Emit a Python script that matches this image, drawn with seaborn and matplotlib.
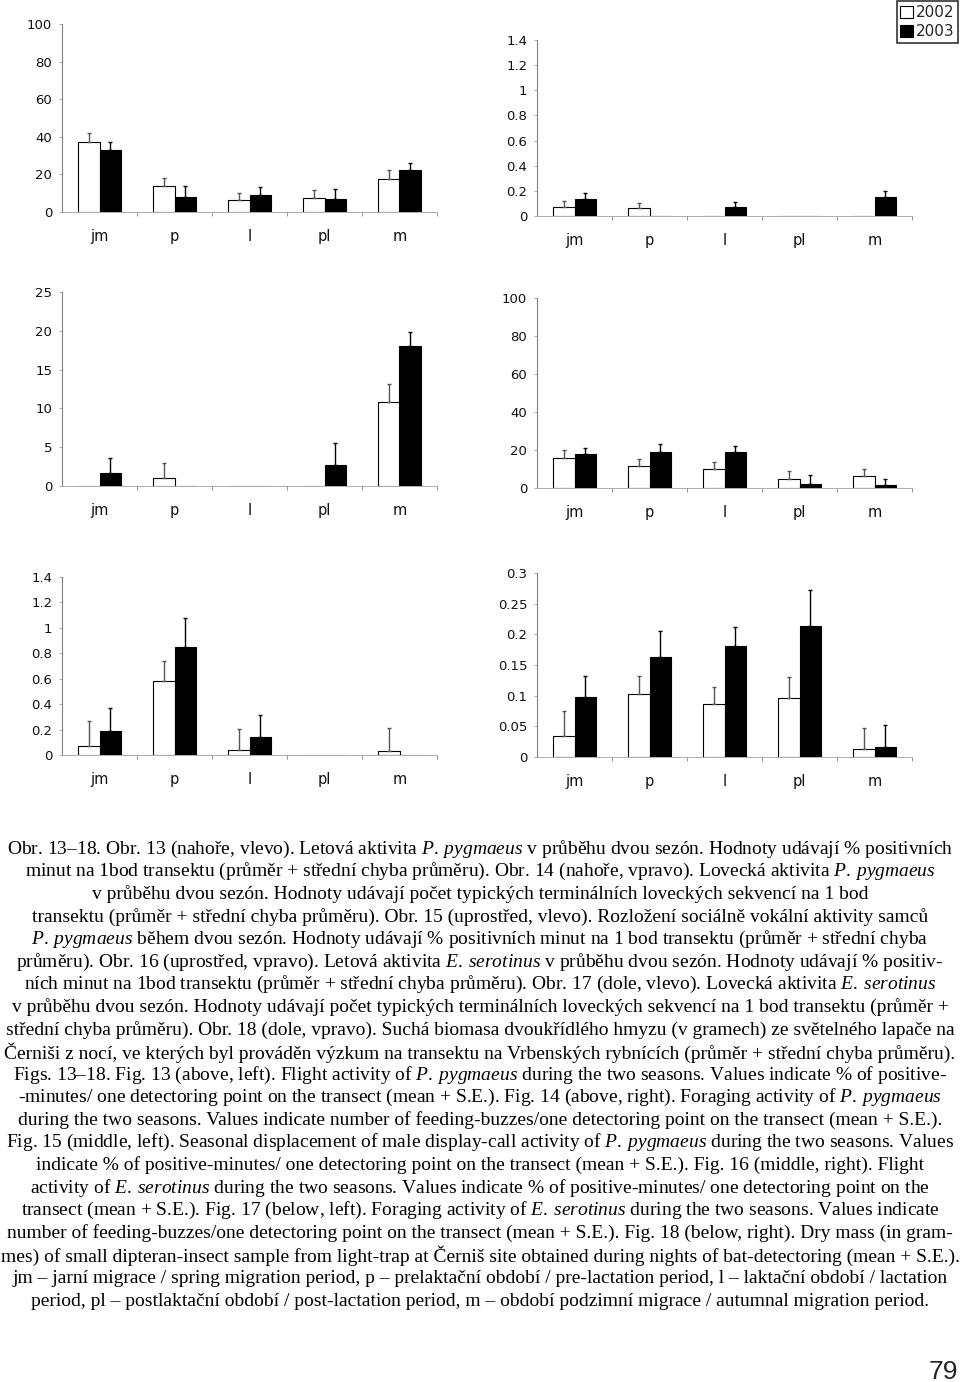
import numpy as np
import pandas as pd
import seaborn as sns
import matplotlib
matplotlib.use('Agg')
from matplotlib import pyplot as plt
from matplotlib import ticker
from matplotlib.patches import Patch

sns.set_theme(style='white')
plt.rcParams['font.family'] = ['DejaVu Sans']
plt.rcParams['mathtext.fontset'] = 'custom'
plt.rcParams['mathtext.it'] = 'Liberation Serif:italic'
plt.rcParams['mathtext.rm'] = 'Liberation Serif'

categories = ['jm', 'p', 'l', 'pl', 'm']
years = ['2002', '2003']

# Obr. 13 - letova aktivita P. pygmaeus (%)
obr13_2002 = [37.0, 14.0, 6.4, 7.3, 17.7]
obr13_2002_se = [5.2, 3.9, 3.9, 4.6, 4.5]
obr13_2003 = [33.2, 8.2, 9.0, 7.1, 22.3]
obr13_2003_se = [4.0, 5.6, 4.1, 5.3, 3.6]
obr13_ticks = [0, 20, 40, 60, 80, 100]

# Obr. 14 - lovecka aktivita P. pygmaeus
obr14_2002 = [0.072, 0.061, 0.0, 0.0, 0.0]
obr14_2002_se = [0.05, 0.04, 0.0, 0.0, 0.0]
obr14_2003 = [0.133, 0.0, 0.072, 0.0, 0.154]
obr14_2003_se = [0.047, 0.0, 0.042, 0.0, 0.046]
obr14_ticks = [0, 0.2, 0.4, 0.6, 0.8, 1, 1.2, 1.4]

# Obr. 15 - socialni vokalizace P. pygmaeus (%)
obr15_2002 = [0.0, 0.99, 0.0, 0.0, 10.84]
obr15_2002_se = [0.0, 1.94, 0.0, 0.0, 2.26]
obr15_2003 = [1.64, 0.0, 0.0, 2.67, 18.1]
obr15_2003_se = [1.93, 0.0, 0.0, 2.83, 1.8]
obr15_ticks = [0, 5, 10, 15, 20, 25]

# Obr. 16 - letova aktivita E. serotinus (%)
obr16_2002 = [15.7, 11.8, 10.0, 4.9, 6.2]
obr16_2002_se = [4.2, 3.3, 3.6, 3.9, 3.8]
obr16_2003 = [17.8, 19.0, 18.7, 2.3, 1.8]
obr16_2003_se = [3.0, 4.4, 3.5, 4.7, 2.8]
obr16_ticks = [0, 20, 40, 60, 80, 100]

# Obr. 17 - lovecka aktivita E. serotinus
obr17_2002 = [0.068, 0.582, 0.042, 0.0, 0.029]
obr17_2002_se = [0.202, 0.16, 0.162, 0.0, 0.18]
obr17_2003 = [0.185, 0.851, 0.141, 0.0, 0.0]
obr17_2003_se = [0.181, 0.225, 0.172, 0.0, 0.0]
obr17_ticks = [0, 0.2, 0.4, 0.6, 0.8, 1, 1.2, 1.4]

# Obr. 18 - sucha biomasa hmyzu (g)
obr18_2002 = [0.0336, 0.1023, 0.0872, 0.097, 0.013]
obr18_2002_se = [0.0422, 0.0304, 0.027, 0.034, 0.0347]
obr18_2003 = [0.098, 0.1625, 0.1814, 0.2139, 0.0168]
obr18_2003_se = [0.0336, 0.0422, 0.0303, 0.059, 0.0352]
obr18_ticks = [0, 0.05, 0.1, 0.15, 0.2, 0.25, 0.3]

PP = r'$P.\:pygmaeus$'
ES = r'$E.\:serotinus$'
caption = [
    'Obr. 13–18. Obr. 13 (nahoře, vlevo). Letová aktivita ' + PP + ' v průběhu dvou sezón. Hodnoty udávají % positivních',
    'minut na 1bod transektu (průměr + střední chyba průměru). Obr. 14 (nahoře, vpravo). Lovecká aktivita ' + PP,
    'v průběhu dvou sezón. Hodnoty udávají počet typických terminálních loveckých sekvencí na 1 bod',
    'transektu (průměr + střední chyba průměru). Obr. 15 (uprostřed, vlevo). Rozložení sociálně vokální aktivity samců',
    PP + ' během dvou sezón. Hodnoty udávají % positivních minut na 1 bod transektu (průměr + střední chyba',
    'průměru). Obr. 16 (uprostřed, vpravo). Letová aktivita ' + ES + ' v průběhu dvou sezón. Hodnoty udávají % positiv-',
    'ních minut na 1bod transektu (průměr + střední chyba průměru). Obr. 17 (dole, vlevo). Lovecká aktivita ' + ES,
    'v průběhu dvou sezón. Hodnoty udávají počet typických terminálních loveckých sekvencí na 1 bod transektu (průměr +',
    'střední chyba průměru). Obr. 18 (dole, vpravo). Suchá biomasa dvoukřídlého hmyzu (v gramech) ze světelného lapače na',
    'Černiši z nocí, ve kterých byl prováděn výzkum na transektu na Vrbenských rybnících (průměr + střední chyba průměru).',
    'Figs. 13–18. Fig. 13 (above, left). Flight activity of ' + PP + ' during the two seasons. Values indicate % of positive-',
    '-minutes/ one detectoring point on the transect (mean + S.E.). Fig. 14 (above, right). Foraging activity of ' + PP,
    'during the two seasons. Values indicate number of feeding-buzzes/one detectoring point on the transect (mean + S.E.).',
    'Fig. 15 (middle, left). Seasonal displacement of male display-call activity of ' + PP + ' during the two seasons. Values',
    'indicate % of positive-minutes/ one detectoring point on the transect (mean + S.E.). Fig. 16 (middle, right). Flight',
    'activity of ' + ES + ' during the two seasons. Values indicate % of positive-minutes/ one detectoring point on the',
    'transect (mean + S.E.). Fig. 17 (below, left). Foraging activity of ' + ES + ' during the two seasons. Values indicate',
    'number of feeding-buzzes/one detectoring point on the transect (mean + S.E.). Fig. 18 (below, right). Dry mass (in gram-',
    'mes) of small dipteran-insect sample from light-trap at Černiš site obtained during nights of bat-detectoring (mean + S.E.).',
    'jm – jarní migrace / spring migration period, p – prelaktační období / pre-lactation period, l – laktační období / lactation',
    'period, pl – postlaktační období / post-lactation period, m – období podzimní migrace / autumnal migration period.',
]
page_number = '79'

W, H = 960, 1382
fig = plt.figure(figsize=(W / 100, H / 100), dpi=100)
fig.patch.set_facecolor('white')


def rect(left, top, bottom):
    # pixel box -> figure fraction
    return [left / W, 1 - bottom / H, 375 / W, (bottom - top) / H]


def draw_panel(box, v02, e02, v03, e03, yticks):
    ax = fig.add_axes(box)
    df = pd.DataFrame({
        'obdobi': categories * 2,
        'rok': [years[0]] * len(categories) + [years[1]] * len(categories),
        'hodnota': v02 + v03,
    })
    sns.barplot(data=df, x='obdobi', y='hodnota', hue='rok', order=categories,
                hue_order=years, palette={years[0]: 'white', years[1]: 'black'},
                edgecolor='black', linewidth=0.8, width=0.58, gap=0,
                errorbar=None, legend=False, ax=ax)
    bar_sets = list(ax.containers[:2])
    for bars, errs, col in zip(bar_sets, [e02, e03], ['#555555', 'black']):
        for bar, err in zip(bars, errs):
            if err > 0:
                x = bar.get_x() + bar.get_width() / 2
                ax.errorbar(x, bar.get_height(), yerr=[[0], [err]], fmt='none',
                            ecolor=col, elinewidth=1, capsize=1.6, capthick=1)
    ax.set_xlim(-0.5, len(categories) - 0.5)
    ax.set_ylim(yticks[0], yticks[-1])
    ax.set_yticks(yticks)
    ax.yaxis.set_major_formatter(ticker.FuncFormatter(lambda v, _: f'{v:g}'))
    ax.set_xticks(np.arange(len(categories)) + 0.5, minor=True)
    ax.set_xlabel('')
    ax.set_ylabel('')
    ax.set_facecolor('white')
    for s in ['top', 'right']:
        ax.spines[s].set_visible(False)
    ax.spines['left'].set_color('#808080')
    ax.spines['left'].set_linewidth(0.8)
    ax.spines['bottom'].set_color('#a0a0a0')
    ax.spines['bottom'].set_linewidth(0.6)
    ax.tick_params(axis='x', which='major', length=0, pad=12, labelsize=10.5,
                   labelcolor='#111111')
    ax.tick_params(axis='x', which='minor', length=3, width=0.6, color='#808080',
                   bottom=True, direction='out')
    ax.tick_params(axis='y', length=2.5, width=0.6, color='#a0a0a0', pad=4.5,
                   labelsize=9.5, labelcolor='#111111', left=True)
    return ax


draw_panel(rect(62, 24, 212), obr13_2002, obr13_2002_se, obr13_2003, obr13_2003_se, obr13_ticks)
draw_panel(rect(537, 40, 216), obr14_2002, obr14_2002_se, obr14_2003, obr14_2003_se, obr14_ticks)
draw_panel(rect(62, 292, 486), obr15_2002, obr15_2002_se, obr15_2003, obr15_2003_se, obr15_ticks)
draw_panel(rect(537, 298, 488), obr16_2002, obr16_2002_se, obr16_2003, obr16_2003_se, obr16_ticks)
draw_panel(rect(62, 577, 755), obr17_2002, obr17_2002_se, obr17_2003, obr17_2003_se, obr17_ticks)
draw_panel(rect(537, 573, 757), obr18_2002, obr18_2002_se, obr18_2003, obr18_2003_se, obr18_ticks)

handles = [Patch(facecolor='white', edgecolor='black', linewidth=0.8),
           Patch(facecolor='black', edgecolor='black', linewidth=0.8)]
leg = fig.legend(handles, years, loc='upper right', bbox_to_anchor=(0.998, 0.999),
                 frameon=True, fancybox=False, fontsize=11, borderpad=0.25,
                 handlelength=0.8, handleheight=0.8, handletextpad=0.2,
                 labelspacing=0.25, borderaxespad=0)
leg.get_frame().set_edgecolor('black')
leg.get_frame().set_linewidth(1.2)

for i, line in enumerate(caption):
    y = 849 + i * 22.6
    fig.text(0.5, 1 - y / H, line, ha='center', va='center', fontsize=14,
             family='Liberation Serif', color='black')

fig.text(958 / W, 1 - 1372 / H, page_number, ha='right', va='center',
         fontsize=19, family='Liberation Sans', color='#222222')

fig.savefig('out.png', dpi=100, facecolor='white')
